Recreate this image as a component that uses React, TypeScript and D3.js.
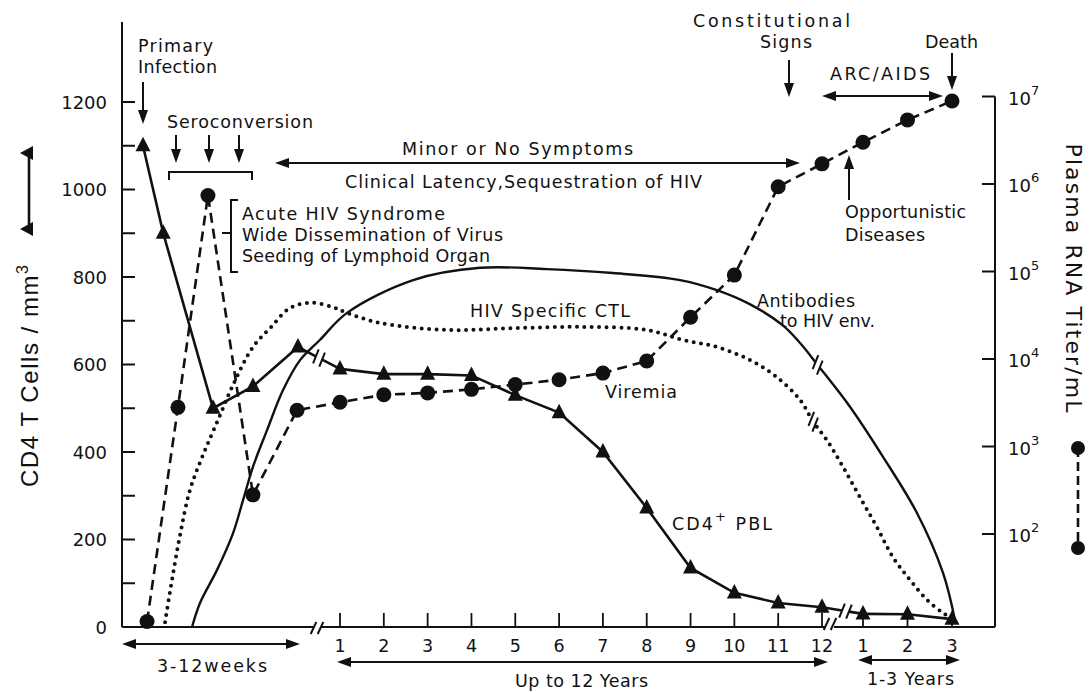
import React from "react";
import * as d3 from "d3";

const W = 1091;
const H = 692;
const FONT = "'DejaVu Sans', Verdana, sans-serif";
const TITLE_FONT = "'Liberation Sans', Arial, Helvetica, sans-serif";
const INK = "#111";

// ---------- axis values ----------
const cd4AxisTicks = [0, 100, 200, 300, 400, 500, 600, 700, 800, 900, 1000, 1100, 1200];
const cd4AxisLabels = [0, 200, 400, 600, 800, 1000, 1200];
const rnaAxisExponents = [2, 3, 4, 5, 6, 7];
const yearTicks = [1, 2, 3, 4, 5, 6, 7, 8, 9, 10, 11, 12];
const lateYearTicks = [1, 2, 3];

// ---------- CD4+ PBL (cells / mm3), triangles ----------
const cd4WeekTimes = [1.4, 2.75, 6.07, 8.73, 11.73];
const cd4WeekValues = [1100, 900, 500, 550, 640];
const cd4YearValues = [590, 578, 578, 575, 530, 490, 400, 272, 135, 78, 55, 45];
const cd4LateValues = [30, 29, 18];

// ---------- Viremia (plasma RNA copies / mL), circles ----------
const viremiaWeekTimes = [1.67, 3.73, 5.73, 8.73, 11.67];
const viremiaWeekValues = [10, 2800, 740000, 280, 2600];
const viremiaYearValues = [3200, 3900, 4100, 4500, 5100, 5800, 6900, 9500, 30000, 91000, 930000, 1700000];
const viremiaLateValues = [3000000, 5400000, 8900000];

// ---------- smooth schematic curves: [segment, time, level on CD4 scale] ----------
type Seg = "w" | "y" | "l";
type CurvePt = [Seg, number, number];
const antibodyCurve: CurvePt[] = [
  ["w", 4.67, 0], ["w", 5.2, 55], ["w", 6.33, 130], ["w", 7.4, 214], ["w", 8.07, 290],
  ["w", 8.73, 366], ["w", 9.67, 450], ["w", 10.73, 541], ["w", 11.87, 610],
  ["y", 0.54, 656], ["y", 1.16, 718], ["y", 2.67, 793], ["y", 4.2, 821], ["y", 5.72, 818],
  ["y", 7.23, 809], ["y", 8.76, 793], ["y", 9.6, 770], ["y", 10.35, 738], ["y", 11.1, 690],
  ["y", 11.5, 649], ["y", 11.9, 599],
  ["l", 0.71, 503], ["l", 1.45, 389], ["l", 2.21, 261], ["l", 2.8, 123], ["l", 3.07, 14],
];
const ctlCurve: CurvePt[] = [
  ["w", 2.87, 11], ["w", 3.33, 107], ["w", 3.87, 210], ["w", 4.53, 313], ["w", 5.4, 393],
  ["w", 6.4, 473], ["w", 7.4, 553], ["w", 8.73, 640], ["w", 9.87, 683], ["w", 11.2, 729],
  ["y", 0.36, 741], ["y", 0.84, 731], ["y", 1.16, 718], ["y", 1.91, 695], ["y", 3.44, 679],
  ["y", 4.95, 683], ["y", 6.48, 686], ["y", 8.0, 679], ["y", 8.83, 656], ["y", 9.6, 640],
  ["y", 10.36, 610], ["y", 10.97, 571], ["y", 11.5, 519], ["y", 11.8, 469],
  ["l", 0.19, 427], ["l", 0.55, 366], ["l", 0.93, 297], ["l", 1.31, 229], ["l", 1.67, 160],
  ["l", 2.06, 107], ["l", 2.44, 62], ["l", 2.8, 32], ["l", 3.0, 21],
];
const antibodyBreakIndex = 20;
const ctlBreakIndex = 23;

// ---------- scales ----------
const xWeeks = d3.scaleLinear().domain([0, 12]).range([122, 302]);
const xYears = d3.scaleLinear().domain([1, 12]).range([340, 822]);
const xLate = d3.scaleLinear().domain([1, 3]).range([863, 952]);
const yCd4 = d3.scaleLinear().domain([0, 1200]).range([627, 102]);
const yRna = d3.scaleLog().domain([1e2, 1e7]).range([534, 96.5]);
const xOf = (s: Seg, t: number) => (s === "w" ? xWeeks(t) : s === "y" ? xYears(t) : xLate(t));

const AX_L = xWeeks(0);
const AX_R = 995;
const AX_B = yCd4(0);
const AX_TOP = 22;

type P = { x: number; y: number };

const cd4Pts: P[][] = [
  cd4WeekTimes.map((t, i) => ({ x: xWeeks(t), y: yCd4(cd4WeekValues[i]) })),
  yearTicks.map((t, i) => ({ x: xYears(t), y: yCd4(cd4YearValues[i]) })),
  lateYearTicks.map((t, i) => ({ x: xLate(t), y: yCd4(cd4LateValues[i]) })),
];
const viremiaPts: P[] = [
  ...viremiaWeekTimes.map((t, i) => ({ x: xWeeks(t), y: yRna(viremiaWeekValues[i]) })),
  ...yearTicks.map((t, i) => ({ x: xYears(t), y: yRna(viremiaYearValues[i]) })),
  ...lateYearTicks.map((t, i) => ({ x: xLate(t), y: yRna(viremiaLateValues[i]) })),
];

const polyline = d3.line<P>().x((d) => d.x).y((d) => d.y);
const smooth = d3
  .line<CurvePt>()
  .x((d) => xOf(d[0], d[1]))
  .y((d) => yCd4(d[2]))
  .curve(d3.curveCatmullRom.alpha(0.5));

function Slash({ x, y, len = 7 }: { x: number; y: number; len?: number }) {
  return <line x1={x - 2.8} y1={y + len} x2={x + 2.8} y2={y - len} stroke={INK} strokeWidth={2} />;
}

function CurveBreak({ curve, i }: { curve: CurvePt[]; i: number }) {
  const c = { x: xOf(curve[i][0], curve[i][1]), y: yCd4(curve[i][2]) };
  const a = { x: xOf(curve[i - 1][0], curve[i - 1][1]), y: yCd4(curve[i - 1][2]) };
  const b = { x: xOf(curve[i + 1][0], curve[i + 1][1]), y: yCd4(curve[i + 1][2]) };
  const dx = b.x - a.x, dy = b.y - a.y, L = Math.hypot(dx, dy);
  const ux = dx / L, uy = dy / L, s = 3.5;
  return (
    <g>
      <line x1={c.x - ux * s} y1={c.y - uy * s} x2={c.x + ux * s} y2={c.y + uy * s} stroke="#fff" strokeWidth={7} />
      <Slash x={c.x - ux * s} y={c.y - uy * s} />
      <Slash x={c.x + ux * s} y={c.y + uy * s} />
    </g>
  );
}

function BrokenLink({ p, q, bx }: { p: P; q: P; bx: number }) {
  const f = (bx - p.x) / (q.x - p.x);
  const dx = q.x - p.x, dy = q.y - p.y, L = Math.hypot(dx, dy);
  const ux = dx / L, uy = dy / L, s = 3.5;
  const c = { x: p.x + f * dx, y: p.y + f * dy };
  return (
    <g>
      <line x1={p.x} y1={p.y} x2={c.x - ux * s} y2={c.y - uy * s} stroke={INK} strokeWidth={2.6} />
      <line x1={c.x + ux * s} y1={c.y + uy * s} x2={q.x} y2={q.y} stroke={INK} strokeWidth={2.6} />
      <Slash x={c.x - ux * s} y={c.y - uy * s} />
      <Slash x={c.x + ux * s} y={c.y + uy * s} />
    </g>
  );
}

function Arrow({ x1, y1, x2, y2, both = false }: { x1: number; y1: number; x2: number; y2: number; both?: boolean }) {
  const head = 14, half = 5;
  const dx = x2 - x1, dy = y2 - y1, L = Math.hypot(dx, dy);
  const ux = dx / L, uy = dy / L;
  const tri = (tx: number, ty: number, vx: number, vy: number) => {
    const bx = tx - vx * head, by = ty - vy * head;
    return `${tx},${ty} ${bx - vy * half},${by + vx * half} ${bx + vy * half},${by - vx * half}`;
  };
  const sx = both ? x1 + ux * head * 0.8 : x1;
  const sy = both ? y1 + uy * head * 0.8 : y1;
  return (
    <g>
      <line x1={sx} y1={sy} x2={x2 - ux * head * 0.8} y2={y2 - uy * head * 0.8} stroke={INK} strokeWidth={2} />
      <polygon points={tri(x2, y2, ux, uy)} fill={INK} />
      {both && <polygon points={tri(x1, y1, -ux, -uy)} fill={INK} />}
    </g>
  );
}

function Tri({ x, y, s = 1 }: { x: number; y: number; s?: number }) {
  return <polygon points={`${x},${y - 9 * s} ${x + 7.5 * s},${y + 5.5 * s} ${x - 7.5 * s},${y + 5.5 * s}`} fill={INK} />;
}

function Label({ x, y, w, size = 17.5, anchor = "start", children }: any) {
  return (
    <text x={x} y={y} fontSize={size} textAnchor={anchor} textLength={w} lengthAdjust="spacing" fill={INK} fontFamily={FONT}>
      {children}
    </text>
  );
}

export default function App() {
  const axisBreak1 = xWeeks(13);
  const axisBreak2 = xYears(12) + 8;
  const cd4Break1 = (xWeeks(12) + xYears(1)) / 2 - 2;
  const cd4Break2 = (xYears(12) + xLate(1)) / 2 + 3;
  return (
    <svg width={W} height={H} style={{ position: "absolute", left: 0, top: 0, background: "#fff" }} fontFamily={FONT}>
      <rect width={W} height={H} fill="#fff" />

      {/* left axis */}
      <line x1={AX_L} y1={AX_TOP} x2={AX_L} y2={AX_B} stroke={INK} strokeWidth={2} />
      {cd4AxisTicks.map((v) => (
        <line key={v} x1={AX_L} x2={AX_L + 13} y1={yCd4(v)} y2={yCd4(v)} stroke={INK} strokeWidth={2} />
      ))}
      {cd4AxisLabels.map((v) => (
        <text key={v} x={107} y={yCd4(v) + 6.5} fontSize={18} textAnchor="end" fill={INK}>
          {v}
        </text>
      ))}

      {/* right axis */}
      <line x1={AX_R} y1={yRna(1e7)} x2={AX_R} y2={AX_B} stroke={INK} strokeWidth={2} />
      {rnaAxisExponents.map((e) => (
        <g key={e}>
          <line x1={AX_R - 13} x2={AX_R} y1={yRna(10 ** e)} y2={yRna(10 ** e)} stroke={INK} strokeWidth={2} />
          <text x={1008} y={yRna(10 ** e) + 8} fontSize={18} fill={INK}>
            10
            <tspan dy={-10} fontSize={13}>{e}</tspan>
          </text>
        </g>
      ))}

      {/* bottom axis with breaks */}
      <line x1={AX_L} y1={AX_B} x2={axisBreak1 - 4} y2={AX_B} stroke={INK} strokeWidth={2} />
      <line x1={axisBreak1 + 4} y1={AX_B} x2={axisBreak2 - 4} y2={AX_B} stroke={INK} strokeWidth={2} />
      <line x1={axisBreak2 + 4} y1={AX_B} x2={AX_R} y2={AX_B} stroke={INK} strokeWidth={2} />
      <Slash x={axisBreak1 - 3.5} y={AX_B + 1} len={6} />
      <Slash x={axisBreak1 + 3.5} y={AX_B + 1} len={6} />
      <Slash x={axisBreak2 - 3.5} y={AX_B - 3} len={6} />
      <Slash x={axisBreak2 + 3.5} y={AX_B - 3} len={6} />
      {yearTicks.map((t) => (
        <g key={"y" + t}>
          <line x1={xYears(t)} x2={xYears(t)} y1={AX_B - 14} y2={AX_B} stroke={INK} strokeWidth={1.8} />
          <text x={xYears(t)} y={652} fontSize={17.5} textAnchor="middle" fill={INK}>
            {t}
          </text>
        </g>
      ))}
      {lateYearTicks.map((t) => (
        <g key={"l" + t}>
          <line x1={xLate(t)} x2={xLate(t)} y1={AX_B - 14} y2={AX_B} stroke={INK} strokeWidth={1.8} />
          <text x={xLate(t)} y={652} fontSize={17.5} textAnchor="middle" fill={INK}>
            {t}
          </text>
        </g>
      ))}

      {/* period arrows under axis */}
      <Arrow x1={AX_L} y1={644} x2={300} y2={644} both />
      <Label x={157} y={672} w={110}>3-12weeks</Label>
      <Arrow x1={337} y1={662} x2={828} y2={662} both />
      <Label x={515} y={687} w={133}>Up to 12 Years</Label>
      <Arrow x1={858} y1={660} x2={960} y2={660} both />
      <Label x={867} y={685} w={87}>1-3 Years</Label>

      {/* CD4 line with breaks */}
      {cd4Pts.map((seg, i) => (
        <path key={i} d={polyline(seg) || ""} fill="none" stroke={INK} strokeWidth={2.6} />
      ))}
      <BrokenLink p={cd4Pts[0][cd4Pts[0].length - 1]} q={cd4Pts[1][0]} bx={cd4Break1} />
      <BrokenLink p={cd4Pts[1][cd4Pts[1].length - 1]} q={cd4Pts[2][0]} bx={cd4Break2} />

      {/* antibodies (solid) */}
      <path d={smooth(antibodyCurve) || ""} fill="none" stroke={INK} strokeWidth={2.4} />
      <CurveBreak curve={antibodyCurve} i={antibodyBreakIndex} />

      {/* HIV specific CTL (dotted) */}
      <path
        d={smooth(ctlCurve) || ""}
        fill="none"
        stroke={INK}
        strokeWidth={4}
        strokeLinecap="round"
        strokeDasharray="0 7.4"
      />
      <CurveBreak curve={ctlCurve} i={ctlBreakIndex} />

      {/* viremia (dashed, log scale) */}
      <path d={polyline(viremiaPts) || ""} fill="none" stroke={INK} strokeWidth={2.6} strokeDasharray="10 6" />
      {viremiaPts.map((p, i) => (
        <circle key={i} cx={p.x} cy={p.y} r={7.5} fill={INK} />
      ))}
      {cd4Pts.flat().map((p, i) => (
        <Tri key={i} x={p.x} y={p.y} />
      ))}

      {/* axis titles */}
      <g transform="translate(38,376) rotate(-90)">
        <text x={0} y={0} fontSize={24} textAnchor="middle" fill={INK} fontFamily={TITLE_FONT} textLength={222} lengthAdjust="spacing">
          CD4 T Cells / mm<tspan dy={-10} fontSize={16}>3</tspan>
        </text>
      </g>
      <g transform="translate(1066,278) rotate(90)">
        <text x={0} y={0} fontSize={22} textAnchor="middle" fill={INK} textLength={269} lengthAdjust="spacing">
          Plasma RNA Titer/mL
        </text>
      </g>

      {/* legend symbols */}
      <line x1={29} y1={152} x2={29} y2={229} stroke={INK} strokeWidth={2.6} />
      <polygon points="33,146 33,160 20,153" fill={INK} />
      <polygon points="33,222 33,236 20,229" fill={INK} />
      <line x1={1078} y1={448} x2={1078} y2={548} stroke={INK} strokeWidth={2.6} strokeDasharray="9 5" />
      <circle cx={1078} cy={448} r={7} fill={INK} />
      <circle cx={1078} cy={548} r={7} fill={INK} />

      {/* annotations */}
      <Label x={138} y={52} w={75}>Primary</Label>
      <Label x={138} y={73} w={79}>Infection</Label>
      <Arrow x1={143} y1={82} x2={143} y2={124} />

      <Label x={167} y={128} w={146}>Seroconversion</Label>
      <Arrow x1={176} y1={135} x2={176} y2={163} />
      <Arrow x1={209} y1={135} x2={209} y2={163} />
      <Arrow x1={239} y1={135} x2={239} y2={163} />
      <polyline points="169,180 169,172 252,172 252,180" fill="none" stroke={INK} strokeWidth={2} />

      <Label x={402} y={155} w={231}>Minor or No Symptoms</Label>
      <Arrow x1={275} y1={163} x2={800} y2={163} both />
      <Label x={345} y={188} w={357}>Clinical Latency,Sequestration of HIV</Label>

      <polyline points="238,200 231,200 231,272 238,272" fill="none" stroke={INK} strokeWidth={2} />
      <line x1={222} y1={233} x2={231} y2={233} stroke={INK} strokeWidth={2} />
      <Label x={242} y={220} w={203}>Acute HIV Syndrome</Label>
      <Label x={242} y={241} w={261}>Wide Dissemination of Virus</Label>
      <Label x={242} y={262} w={248}>Seeding of Lymphoid Organ</Label>

      <Label x={470} y={317} w={160}>HIV Specific CTL</Label>
      <Label x={605} y={398} w={72}>Viremia</Label>
      <Label x={757} y={307} w={98}>Antibodies</Label>
      <Label x={780} y={327} w={95}>to HIV env.</Label>
      <Label x={672} y={530} w={100}>
        CD4<tspan dy={-9} fontSize={13}>+</tspan>
        <tspan dy={9}> PBL</tspan>
      </Label>

      <Label x={693} y={27} w={157}>Constitutional</Label>
      <Label x={760} y={48} w={52}>Signs</Label>
      <Arrow x1={789} y1={60} x2={789} y2={97} />
      <Label x={925} y={48} w={53}>Death</Label>
      <Arrow x1={952} y1={53} x2={952} y2={90} />
      <Label x={830} y={80} w={100}>ARC/AIDS</Label>
      <Arrow x1={822} y1={96} x2={943} y2={96} both />
      <Label x={845} y={218} w={121}>Opportunistic</Label>
      <Label x={845} y={241} w={80}>Diseases</Label>
      <Arrow x1={849} y1={200} x2={849} y2={155} />
    </svg>
  );
}
